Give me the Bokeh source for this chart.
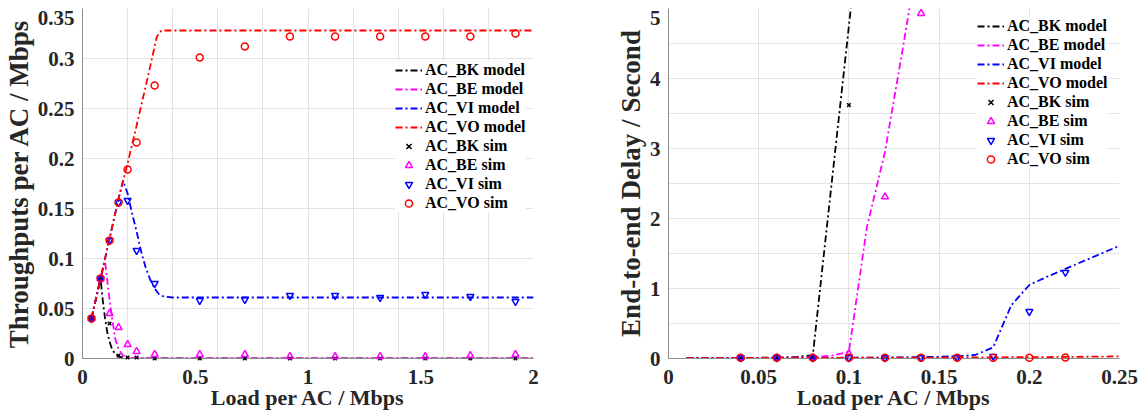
from bokeh.plotting import figure
from bokeh.layouts import row
from bokeh.models import Range1d, FixedTicker, Legend, LegendItem
from bokeh.core.properties import value
from bokeh.embed import file_html
from bokeh.resources import INLINE

# ---------------- data: throughput (left) ----------------
thr_sim_load = [0.04, 0.08, 0.12, 0.16, 0.2, 0.24, 0.32, 0.52, 0.72, 0.92, 1.12, 1.32, 1.52, 1.72, 1.92]
thr_vo_sim = [0.04, 0.08, 0.118, 0.156, 0.189, 0.216, 0.273, 0.301, 0.312, 0.322, 0.322, 0.322, 0.322, 0.322, 0.325]
thr_vi_sim = [0.04, 0.08, 0.118, 0.156, 0.158, 0.108, 0.075, 0.058, 0.059, 0.063, 0.063, 0.061, 0.064, 0.062, 0.057]
thr_be_sim = [0.04, 0.08, 0.045, 0.031, 0.014, 0.007, 0.004, 0.004, 0.004, 0.002, 0.002, 0.002, 0.002, 0.003, 0.004]
thr_bk_sim = [0.04, 0.08, 0.035, 0.003, 0.001, 0.001, 0.0, 0.0, 0.0, 0.0, 0.0, 0.0, 0.0, 0.0, 0.0]

thr_vo_model_x = [0.04, 0.08, 0.12, 0.16, 0.2, 0.24, 0.28, 0.31, 0.33, 0.35, 0.5, 1.0, 1.5, 2.0]
thr_vo_model = [0.04, 0.08, 0.12, 0.16, 0.195, 0.233, 0.272, 0.302, 0.322, 0.328, 0.328, 0.328, 0.328, 0.328]
thr_vi_model_x = [0.04, 0.08, 0.12, 0.16, 0.18, 0.2, 0.22, 0.24, 0.26, 0.28, 0.3, 0.32, 0.34, 0.36, 0.4, 1.0, 2.0]
thr_vi_model = [0.04, 0.08, 0.12, 0.16, 0.178, 0.165, 0.145, 0.127, 0.107, 0.091, 0.079, 0.07, 0.064, 0.062, 0.061, 0.061, 0.061]
thr_be_model_x = [0.04, 0.08, 0.1, 0.115, 0.13, 0.145, 0.16, 0.18, 0.2, 0.3, 1.0, 2.0]
thr_be_model = [0.04, 0.08, 0.097, 0.068, 0.042, 0.02, 0.009, 0.003, 0.001, 0.0, 0.0, 0.0]
thr_bk_model_x = [0.04, 0.08, 0.09, 0.1, 0.11, 0.12, 0.13, 0.14, 0.16, 0.2, 0.3, 1.0, 2.0]
thr_bk_model = [0.04, 0.08, 0.058, 0.04, 0.026, 0.017, 0.01, 0.006, 0.002, 0.0, 0.0, 0.0, 0.0]

thr_x_ticks = [0, 0.5, 1, 1.5, 2]
thr_x_labels = ["0", "0.5", "1", "1.5", "2"]
thr_x_grid = [0, 0.2, 0.4, 0.6, 0.8, 1.0, 1.2, 1.4, 1.6, 1.8, 2.0]
thr_y_ticks = [0, 0.05, 0.1, 0.15, 0.2, 0.25, 0.3, 0.35]
thr_y_labels = ["0", "0.05", "0.1", "0.15", "0.2", "0.25", "0.3", "0.35"]

# ---------------- data: delay (right) ----------------
dly_bk_model_x = [0.01, 0.02, 0.03, 0.04, 0.05, 0.06, 0.07, 0.08, 0.09, 0.1, 0.11]
dly_bk_model = [0.005, 0.006, 0.007, 0.008, 0.01, 0.013, 0.02, 0.047, 2.4, 4.75, 7.1]
dly_be_model_x = [0.01, 0.02, 0.03, 0.04, 0.05, 0.06, 0.07, 0.08, 0.09, 0.1, 0.11, 0.12, 0.13, 0.14]
dly_be_model = [0.005, 0.006, 0.007, 0.008, 0.009, 0.011, 0.014, 0.02, 0.04, 0.095, 1.88, 2.95, 4.45, 6.0]
dly_model_x = [0.01, 0.02, 0.03, 0.04, 0.05, 0.06, 0.07, 0.08, 0.09, 0.1, 0.11, 0.12, 0.13,
               0.14, 0.15, 0.16, 0.17, 0.18, 0.19, 0.2, 0.21, 0.22, 0.23, 0.24, 0.25]
dly_vi_model = [0.005, 0.005, 0.006, 0.006, 0.007, 0.007, 0.008, 0.009, 0.01, 0.011, 0.012, 0.014, 0.016,
                0.02, 0.025, 0.032, 0.05, 0.16, 0.76, 1.05, 1.17, 1.28, 1.39, 1.5, 1.61]
dly_vo_model = [0.005, 0.006, 0.006, 0.007, 0.007, 0.008, 0.008, 0.009, 0.009, 0.01, 0.011, 0.011, 0.012,
                0.013, 0.014, 0.015, 0.016, 0.017, 0.018, 0.019, 0.021, 0.023, 0.025, 0.027, 0.03]

dly_sim_x = [0.04, 0.06, 0.08, 0.1, 0.12, 0.14, 0.16, 0.18, 0.2, 0.22]
dly_vo_sim = [0.01, 0.01, 0.01, 0.01, 0.01, 0.01, 0.01, 0.01, 0.012, 0.014]
dly_vi_sim = [0.01, 0.01, 0.01, 0.01, 0.01, 0.012, 0.015, 0.03, 0.67, 1.23]
dly_be_sim_x = [0.04, 0.06, 0.08, 0.1, 0.12, 0.14]
dly_be_sim = [0.01, 0.01, 0.015, 0.07, 2.31, 4.93]
dly_bk_sim_x = [0.04, 0.06, 0.08, 0.1]
dly_bk_sim = [0.01, 0.01, 0.02, 3.62]

dly_x_ticks = [0, 0.05, 0.1, 0.15, 0.2, 0.25]
dly_x_labels = ["0", "0.05", "0.1", "0.15", "0.2", "0.25"]
dly_y_ticks = [0, 1, 2, 3, 4, 5]
dly_y_labels = ["0", "1", "2", "3", "4", "5"]
dly_y_grid = [0, 0.5, 1, 1.5, 2, 2.5, 3, 3.5, 4, 4.5, 5]

series_names = ["AC_BK", "AC_BE", "AC_VI", "AC_VO"]
series_colors = ["#000000", "#ff00ff", "#0000ff", "#ff0000"]
series_markers = ["x", "triangle", "inverted_triangle", "circle"]

FONT = "Liberation Serif"
DASH = "7 3 2 3"
TICK_COLOR = "#262626"


def style(p, xticks, xlabels, xgrid, yticks, ylabels, ygrid, xlabel, ylabel):
    p.outline_line_color = None
    p.background_fill_color = "white"
    p.border_fill_color = "white"
    for ax, ticks, labels in ((p.xaxis[0], xticks, xlabels), (p.yaxis[0], yticks, ylabels)):
        ax.ticker = FixedTicker(ticks=ticks)
        ax.major_label_overrides = {t: l for t, l in zip(ticks, labels)}
        ax.major_tick_in = 0
        ax.major_tick_out = 0
        ax.minor_tick_in = 0
        ax.minor_tick_out = 0
        ax.axis_line_color = "#8c8c8c"
        ax.axis_line_width = 1
        ax.major_label_text_font = FONT
        ax.major_label_text_font_style = "bold"
        ax.major_label_text_font_size = "21px"
        ax.major_label_text_color = TICK_COLOR
        ax.axis_label_text_font = FONT
        ax.axis_label_text_font_style = "bold"
        ax.axis_label_text_color = TICK_COLOR
    # the top y tick label sits a little lower than its tick, as in the reference
    top_tick = yticks[-1]
    top_text = ylabels[-1]
    p.yaxis[0].major_label_overrides = {t: (l if t != top_tick else " ") for t, l in zip(yticks, ylabels)}
    p.text(x=[xticks[0]], y=[top_tick], text=[top_text], x_offset=-8, y_offset=9,
           text_align="right", text_baseline="middle",
           text_font=value(FONT), text_font_style="bold", text_font_size="21px",
           text_color=TICK_COLOR, level="overlay")
    p.xaxis[0].axis_label = xlabel
    p.yaxis[0].axis_label = ylabel
    p.xaxis[0].major_label_standoff = 11
    p.yaxis[0].major_label_standoff = 8
    p.xaxis[0].axis_label_text_font_size = "22px"
    p.yaxis[0].axis_label_text_font_size = "27px"
    p.xaxis[0].axis_label_standoff = -2
    p.yaxis[0].axis_label_standoff = 1
    p.xgrid[0].ticker = FixedTicker(ticks=xgrid)
    p.ygrid[0].ticker = FixedTicker(ticks=ygrid)
    for g in (p.xgrid[0], p.ygrid[0]):
        g.grid_line_color = "#e3e3e3"
        g.grid_line_width = 1


def make_legend(p, line_rs, marker_rs, loc):
    items = []
    for n, r in zip(series_names, line_rs):
        items.append(LegendItem(label=n + " model", renderers=[r]))
    for n, r in zip(series_names, marker_rs):
        items.append(LegendItem(label=n + " sim", renderers=[r]))
    lg = Legend(items=items, location=loc)
    lg.label_text_font = FONT
    lg.label_text_font_style = "bold"
    lg.label_text_font_size = "16px"
    lg.label_text_color = "#000000"
    lg.glyph_width = 27
    lg.glyph_height = 18
    lg.label_height = 18
    lg.label_standoff = 3
    lg.spacing = 1
    lg.padding = 2
    lg.margin = 0
    lg.border_line_color = None
    lg.background_fill_color = "white"
    lg.background_fill_alpha = 1.0
    p.add_layout(lg)


# ---------------- left figure ----------------
p1 = figure(width=600, height=416, frame_width=451, frame_height=350,
            min_border_left=81, min_border_right=68, min_border_top=8, min_border_bottom=58,
            x_range=Range1d(0, 2), y_range=Range1d(0, 0.35),
            output_backend="svg", toolbar_location=None)
style(p1, thr_x_ticks, thr_x_labels, thr_x_grid, thr_y_ticks, thr_y_labels, thr_y_ticks,
      "Load per AC / Mbps", "Throughputs per AC / Mbps")

l_models = [(thr_bk_model_x, thr_bk_model), (thr_be_model_x, thr_be_model),
            (thr_vi_model_x, thr_vi_model), (thr_vo_model_x, thr_vo_model)]
l_sims = [thr_bk_sim, thr_be_sim, thr_vi_sim, thr_vo_sim]
lines1 = []
for (mx, my), c in zip(l_models, series_colors):
    lines1.append(p1.line(mx, my, line_color=c, line_width=1.8, line_dash=DASH))
marks1 = []
for sy, c, m in zip(l_sims, series_colors, series_markers):
    sz = 5 if m == "x" else 7
    marks1.append(p1.scatter(thr_sim_load, sy, marker=m, size=sz, fill_color=None,
                             line_color=c, line_width=1.5, level="overlay"))
make_legend(p1, lines1, marks1, (313, 146))

# ---------------- right figure ----------------
p2 = figure(width=541, height=416, frame_width=451, frame_height=350,
            min_border_left=67, min_border_right=23, min_border_top=8, min_border_bottom=58,
            x_range=Range1d(0, 0.25), y_range=Range1d(0, 5),
            output_backend="svg", toolbar_location=None)
style(p2, dly_x_ticks, dly_x_labels, dly_x_ticks, dly_y_ticks, dly_y_labels, dly_y_grid,
      "Load per AC / Mbps", "End-to-end Delay / Second")

r_models = [(dly_bk_model_x, dly_bk_model), (dly_be_model_x, dly_be_model),
            (dly_model_x, dly_vi_model), (dly_model_x, dly_vo_model)]
r_sims = [(dly_bk_sim_x, dly_bk_sim), (dly_be_sim_x, dly_be_sim),
          (dly_sim_x, dly_vi_sim), (dly_sim_x, dly_vo_sim)]
lines2 = []
for (mx, my), c in zip(r_models, series_colors):
    lines2.append(p2.line(mx, my, line_color=c, line_width=1.8, line_dash=DASH))
marks2 = []
for (sx, sy), c, m in zip(r_sims, series_colors, series_markers):
    sz = 5 if m == "x" else 7
    marks2.append(p2.scatter(sx, sy, marker=m, size=sz, fill_color=None,
                             line_color=c, line_width=1.5, level="overlay"))
make_legend(p2, lines2, marks2, (309, 190))

layout = row(p1, p2, spacing=0)
open("out.html", "w").write(file_html(layout, INLINE))
